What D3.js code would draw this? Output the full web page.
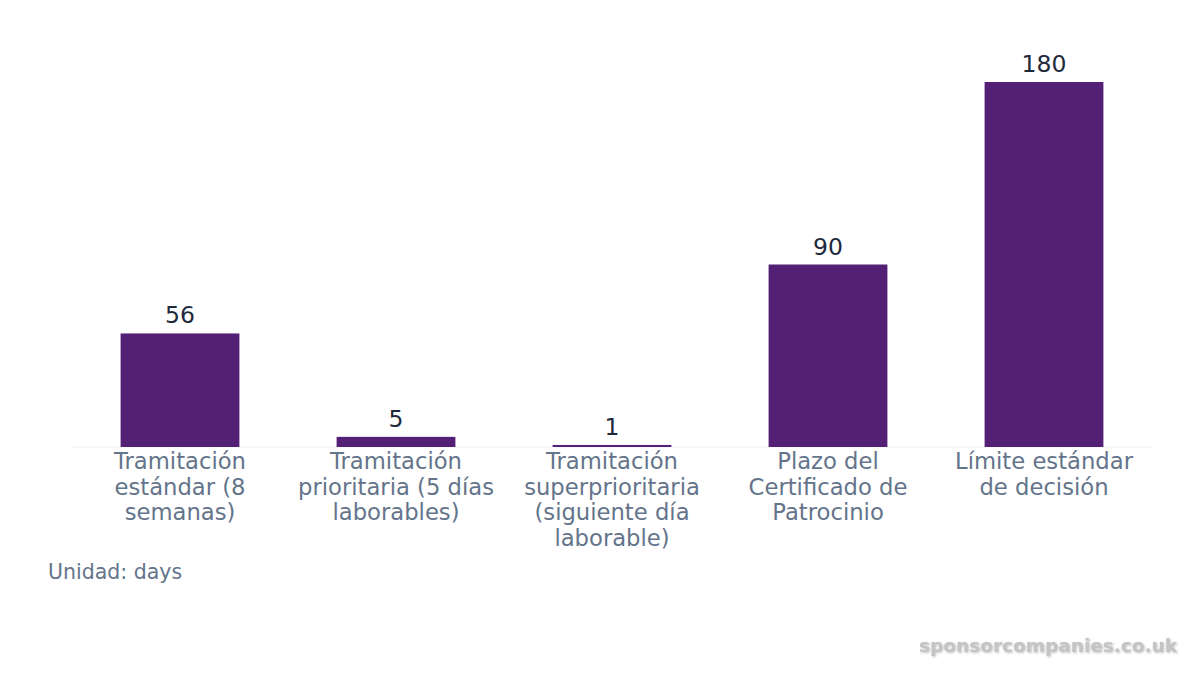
<!DOCTYPE html>
<html>
<head>
<meta charset="utf-8">
<script src="https://cdn.jsdelivr.net/npm/d3@7"></script>
<style>
  body { margin: 0; background: #fff; }
  svg { font-family: "DejaVu Sans", sans-serif; }
</style>
</head>
<body>
<svg id="chart" width="1200" height="675"></svg>
<script>
// categories and values (days)
const categories = [
  'Tramitación estándar (8 semanas)',
  'Tramitación prioritaria (5 días laborables)',
  'Tramitación superprioritaria (siguiente día laborable)',
  'Plazo del Certificado de Patrocinio',
  'Límite estándar de decisión'
];
const values = [56, 5, 1, 90, 180];
const unitLabel = 'Unidad: days';
const watermark = 'sponsorcompanies.co.uk';

const svg = d3.select('#chart');

// scales
const x = d3.scaleBand()
  .domain(categories)
  .range([72, 1152])
  .paddingInner(0.45)
  .paddingOuter(0.225);

const y = d3.scaleLinear()
  .domain([0, 180])
  .range([447, 82]);

// baseline
svg.append('line')
  .attr('x1', 72).attr('x2', 1152)
  .attr('y1', y(0)).attr('y2', y(0))
  .attr('stroke', '#eef0f3')
  .attr('stroke-width', 1);

// bars
svg.selectAll('rect.bar')
  .data(values)
  .enter().append('rect')
  .attr('class', 'bar')
  .attr('x', (d, i) => x(categories[i]))
  .attr('y', d => y(d))
  .attr('width', x.bandwidth())
  .attr('height', d => y(0) - y(d))
  .attr('fill', '#532076');

// value labels
svg.selectAll('text.val')
  .data(values)
  .enter().append('text')
  .attr('class', 'val')
  .attr('x', (d, i) => x(categories[i]) + x.bandwidth() / 2)
  .attr('y', d => y(d) - 10)
  .attr('text-anchor', 'middle')
  .attr('font-size', 23.5)
  .attr('fill', '#1e293b')
  .text(d => d);

// x axis labels, wrapped
const xAxis = d3.axisBottom(x).tickSize(0).tickPadding(0);
const gx = svg.append('g')
  .attr('transform', 'translate(0,' + y(0) + ')')
  .call(xAxis);
gx.select('.domain').remove();
gx.selectAll('text')
  .attr('font-size', 22.7)
  .attr('font-family', '"DejaVu Sans", sans-serif')
  .attr('fill', '#64748b')
  .attr('dy', null)
  .attr('y', 22)
  .call(wrap, 205);

function wrap(texts, width) {
  texts.each(function() {
    const text = d3.select(this);
    const words = text.text().split(/\s+/);
    const yy = text.attr('y');
    text.text(null);
    let line = [];
    let lineNo = 0;
    let tspan = text.append('tspan').attr('x', 0).attr('y', yy).attr('dy', 0);
    words.forEach(w => {
      line.push(w);
      tspan.text(line.join(' '));
      if (tspan.node().getComputedTextLength() > width && line.length > 1) {
        line.pop();
        tspan.text(line.join(' '));
        line = [w];
        lineNo++;
        tspan = text.append('tspan').attr('x', 0).attr('y', yy)
          .attr('dy', lineNo * 25.5).text(w);
      }
    });
  });
}

// unit note
svg.append('text')
  .attr('x', 48).attr('y', 579)
  .attr('font-size', 20.5)
  .attr('fill', '#64748b')
  .text(unitLabel);

// watermark
svg.append('text')
  .attr('x', 1177).attr('y', 652)
  .attr('text-anchor', 'end')
  .attr('font-size', 18.5)
  .attr('font-weight', 'bold')
  .attr('fill', '#c4c4c4')
  .style('filter', 'drop-shadow(1px 1px 1px rgba(0,0,0,0.25))')
  .text(watermark);
</script>
</body>
</html>
